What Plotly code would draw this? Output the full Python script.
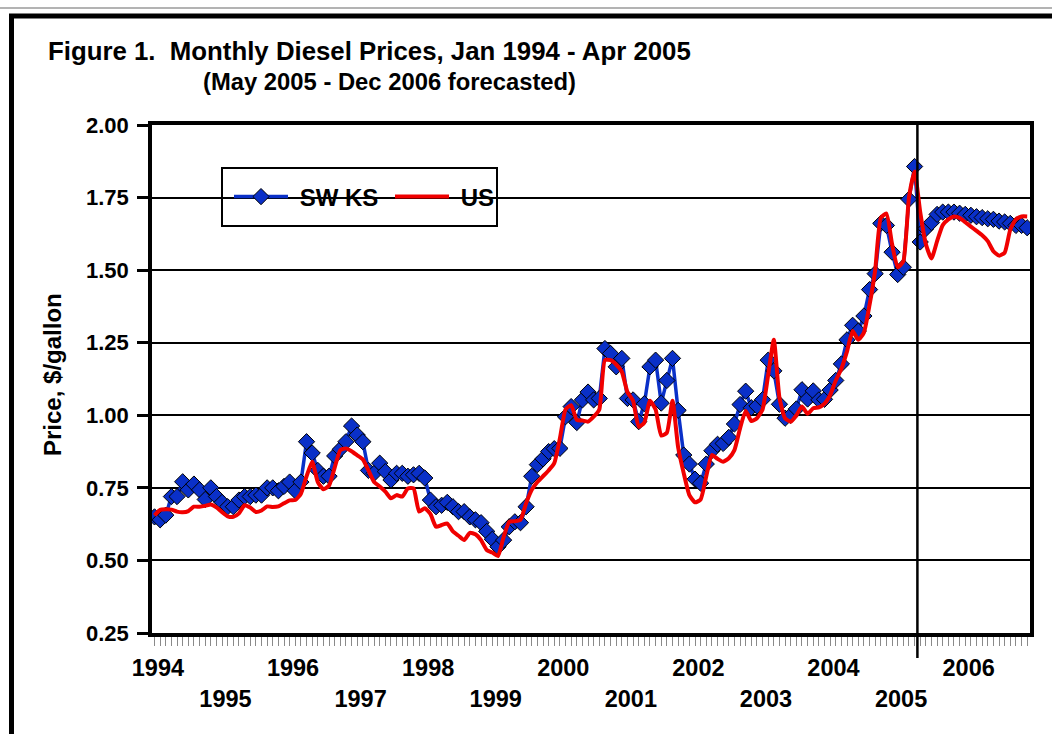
import plotly.graph_objects as go

# Monthly diesel prices, Jan 1994 - Dec 2006 ($/gallon); May 2005 onward forecast
sw_ks_1994_1999 = [
    0.65, 0.64, 0.656, 0.72, 0.72, 0.771, 0.743, 0.763, 0.743, 0.71, 0.75, 0.72,
    0.70, 0.685, 0.685, 0.708, 0.72, 0.72, 0.725, 0.725, 0.75, 0.75, 0.74, 0.755,
    0.77, 0.74, 0.77, 0.909, 0.87, 0.81, 0.79, 0.79, 0.86, 0.883, 0.909, 0.963,
    0.932, 0.909, 0.81, 0.80, 0.835, 0.806, 0.777, 0.80, 0.80, 0.79, 0.795, 0.80,
    0.784, 0.708, 0.685, 0.69, 0.70, 0.685, 0.668, 0.668, 0.65, 0.64, 0.63, 0.60,
    0.573, 0.547, 0.57, 0.616, 0.633, 0.63, 0.685, 0.79, 0.83, 0.85, 0.875, 0.885,
]
sw_ks_2000_2006 = [
    0.886, 0.995, 1.03, 0.975, 1.053, 1.08, 1.053, 1.058, 1.23, 1.213, 1.167, 1.196,
    1.058, 1.053, 0.978, 1.04, 1.167, 1.19, 1.042, 1.12, 1.196, 1.017, 0.863, 0.832,
    0.78, 0.766, 0.832, 0.878, 0.90, 0.903, 0.924, 0.97, 1.037, 1.083, 1.026, 1.032,
    1.054, 1.19, 1.153, 1.038, 0.99, 1.0, 1.022, 1.088, 1.056, 1.084, 1.053, 1.055,
    1.087, 1.12, 1.177, 1.26, 1.31, 1.29, 1.342, 1.433, 1.488, 1.661, 1.654, 1.562,
    1.485, 1.51, 1.744, 1.857, 1.597, 1.643, 1.664, 1.692, 1.70, 1.70, 1.70, 1.696,
    1.692, 1.689, 1.684, 1.681, 1.677, 1.675, 1.669, 1.666, 1.661, 1.654, 1.654, 1.646,
]
us_1994_1999 = [
    0.655, 0.674, 0.676, 0.675, 0.668, 0.666, 0.67, 0.685, 0.685, 0.688, 0.693, 0.683,
    0.666, 0.652, 0.65, 0.662, 0.69, 0.682, 0.667, 0.672, 0.686, 0.684, 0.686, 0.697,
    0.707, 0.708, 0.73, 0.79, 0.84, 0.77, 0.745, 0.758, 0.82, 0.88, 0.886, 0.876,
    0.862, 0.848, 0.81, 0.77, 0.755, 0.737, 0.714, 0.725, 0.72, 0.748, 0.748, 0.668,
    0.68, 0.66, 0.616, 0.622, 0.627, 0.60, 0.585, 0.57, 0.595, 0.59, 0.57, 0.536,
    0.527, 0.515, 0.58, 0.633, 0.635, 0.64, 0.697, 0.743, 0.77, 0.79, 0.81, 0.835,
]
us_2000_2006 = [
    0.92, 1.02, 1.035, 0.984, 0.982, 0.978, 0.995, 1.02, 1.19, 1.19, 1.175, 1.15,
    1.08, 1.05, 0.96, 0.975, 1.05, 1.02, 0.93, 0.94, 1.05, 0.89, 0.80, 0.725,
    0.70, 0.71, 0.79, 0.863, 0.85, 0.84, 0.852, 0.88, 0.955, 1.015, 0.98, 0.99,
    1.02, 1.14, 1.26, 1.06, 0.99, 0.978, 1.0, 1.03, 1.005, 1.024, 1.027, 1.04,
    1.07, 1.12, 1.16, 1.22, 1.29, 1.26, 1.285, 1.38, 1.50, 1.68, 1.695, 1.59,
    1.51, 1.53, 1.75, 1.84, 1.70, 1.59, 1.54, 1.60, 1.655, 1.675, 1.685, 1.68,
    1.665, 1.65, 1.635, 1.62, 1.60, 1.565, 1.55, 1.56, 1.64, 1.675, 1.685, 1.685,
]
sw_ks = sw_ks_1994_1999 + sw_ks_2000_2006
us = us_1994_1999 + us_2000_2006

series_names = ["SW KS", "US"]
year_labels = ["1994", "1995", "1996", "1997", "1998", "1999", "2000",
               "2001", "2002", "2003", "2004", "2005", "2006"]
y_ticks = [0.25, 0.50, 0.75, 1.00, 1.25, 1.50, 1.75, 2.00]
forecast_boundary = 135.5  # between Apr 2005 and May 2005

month_idx = list(range(len(sw_ks)))

FONT = "Liberation Sans, Arial, sans-serif"
BLUE = "#0A30C8"
RED = "#F00000"
GAP = "\u00a0"  # small gap between legend symbol and text

fig = go.Figure()
fig.add_trace(go.Scatter(
    x=month_idx, y=sw_ks, name=GAP + series_names[0], mode="lines+markers",
    line=dict(color=BLUE, width=3.5),
    marker=dict(symbol="diamond", size=12.5, color=BLUE,
                line=dict(color="black", width=1)),
))
fig.add_trace(go.Scatter(
    x=month_idx, y=us, name=GAP + series_names[1], mode="lines",
    line=dict(color=RED, width=4, shape="spline", smoothing=0.5),
))

# body margin is removed below, so figure pixels == screenshot pixels
FIG_W, FIG_H = 1052, 734
L, R, T, B = 152, 1030, 125, 633   # plot area in pixels
def px(xp):
    return (xp - L) / (R - L)
def py(yp):
    return (B - yp) / (B - T)

tick_pos = [12 * k + 0.6 for k in range(len(year_labels))]
tick_txt = [lab if k % 2 == 0 else "<br>" + lab for k, lab in enumerate(year_labels)]

fig.update_layout(
    width=FIG_W, height=FIG_H, autosize=False,
    margin=dict(l=L, r=FIG_W - R, t=T, b=FIG_H - B),
    paper_bgcolor="white", plot_bgcolor="white",
    font=dict(family=FONT, color="black"),
    showlegend=True,
    legend=dict(
        orientation="h", x=px(229), y=py(197), xanchor="left", yanchor="middle",
        bgcolor="rgba(0,0,0,0)", borderwidth=0,
        font=dict(family=FONT, size=24, color="black", weight="bold"),
        itemwidth=54, entrywidth=92,
    ),
    xaxis=dict(
        range=[-0.45, 155.5], showgrid=False, zeroline=False,
        showline=True, linecolor="black", linewidth=4, mirror=True,
        tickmode="array", tickvals=tick_pos, ticktext=tick_txt,
        ticks="", ticklabelstandoff=11,
        tickfont=dict(family=FONT, size=23.5, color="black", weight="bold"),
        minor=dict(tick0=0, dtick=1, ticks="outside", ticklen=9,
                   tickcolor="#8a8a8a", tickwidth=1, showgrid=False),
    ),
    yaxis=dict(
        range=[0.25, 2.0], tickmode="array", tickvals=y_ticks,
        tickformat=".2f", showgrid=True, gridcolor="black", gridwidth=2,
        zeroline=False, showline=True, linecolor="black", linewidth=3.5,
        mirror=True, ticks="outside", ticklen=11, tickwidth=2.5,
        tickcolor="black", ticklabelstandoff=4,
        tickfont=dict(family=FONT, size=22, color="black", weight="bold"),
    ),
    shapes=[
        # outer frame
        dict(type="rect", xref="paper", yref="paper",
             x0=px(11.5), x1=px(1100), y0=py(800), y1=py(16),
             line=dict(color="black", width=5), fillcolor="rgba(0,0,0,0)"),
        # faint top line
        dict(type="line", xref="paper", yref="paper",
             x0=px(0), x1=px(1052), y0=py(8), y1=py(8),
             line=dict(color="#9a9a9a", width=1.5)),
        # legend box
        dict(type="rect", xref="paper", yref="paper",
             x0=px(222), x1=px(497), y0=py(226), y1=py(168),
             line=dict(color="black", width=2), fillcolor="white", layer="below"),
        # forecast boundary
        dict(type="line", xref="x", yref="paper",
             x0=forecast_boundary, x1=forecast_boundary, y0=py(658), y1=1,
             line=dict(color="black", width=2.5)),
    ],
    annotations=[
        dict(text="Figure 1.\u00a0 Monthly Diesel Prices, Jan 1994 - Apr 2005",
             xref="paper", yref="paper", x=px(46), y=py(51),
             xanchor="left", yanchor="middle", showarrow=False,
             font=dict(family=FONT, size=25.8, color="black", weight="bold")),
        dict(text="(May 2005 - Dec 2006 forecasted)",
             xref="paper", yref="paper", x=px(389), y=py(82),
             xanchor="center", yanchor="middle", showarrow=False,
             font=dict(family=FONT, size=23.8, color="black", weight="bold")),
        dict(text="Price, $/gallon", textangle=-90,
             xref="paper", yref="paper", x=px(52), y=py(375),
             xanchor="center", yanchor="middle", showarrow=False,
             font=dict(family=FONT, size=24, color="black", weight="bold")),
    ],
)

fig.write_html(
    "out.html",
    config={"displayModeBar": False},
    post_script="document.body.style.margin='0';document.body.style.overflow='hidden';",
)
